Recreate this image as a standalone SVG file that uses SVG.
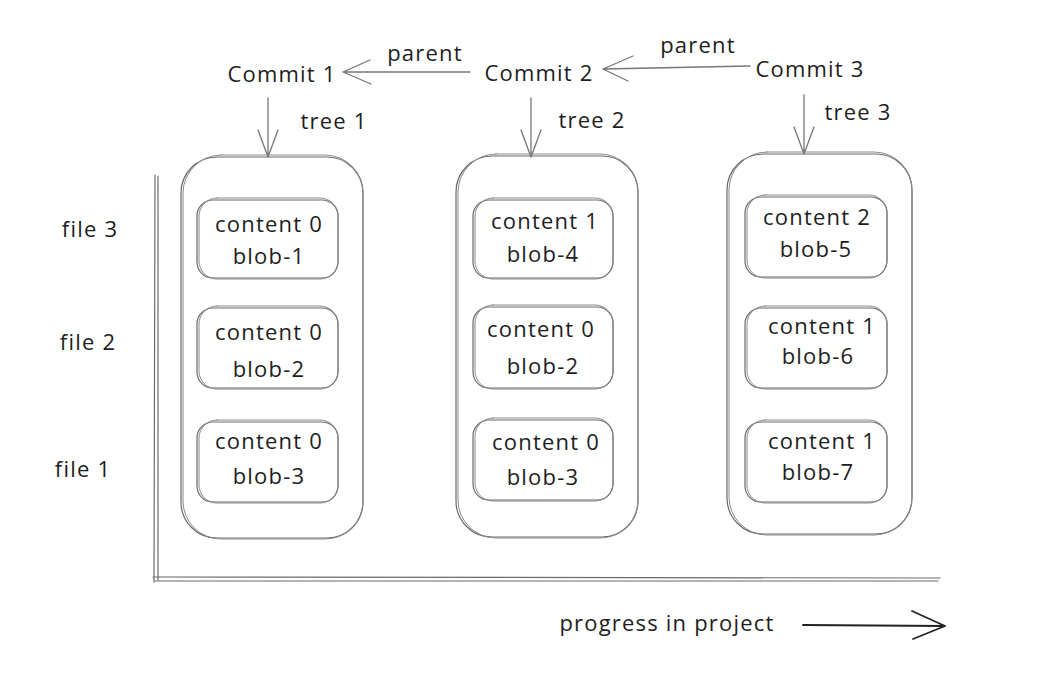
<svg xmlns="http://www.w3.org/2000/svg" width="1059" height="693" viewBox="0 0 1059 693">
<style>
.t{font-family:"Open Sans","Liberation Sans",sans-serif;font-size:22px;letter-spacing:1.2px;fill:#1e1e1e;text-anchor:middle}
.s{fill:none;stroke:#6a6a6a;stroke-width:1.2;stroke-linecap:round}
.s2{fill:none;stroke:#8a8a8a;stroke-width:1;stroke-linecap:round}
.a{fill:none;stroke:#777;stroke-width:1.3;stroke-linecap:round}
.k{fill:none;stroke:#222;stroke-width:1.8;stroke-linecap:round}
</style>
<rect width="1059" height="693" fill="#fff"/>
<g id="connectors">
  <path class="a" d="M470,72 L343,72 M343,72 L370,60 M343,72 L371,84"/>
  <path class="a" d="M750,66 L603,69 M603,69 L633,56 M603,69 L628,81"/>
  <path class="a" d="M268,98 L268,157 M268,157 L258,130 M268,157 L278,130"/>
  <path class="a" d="M531,98 L531,157 M531,157 L521,130 M531,157 L541,130"/>
  <path class="a" d="M804,95 L804,154 M804,154 L794,127 M804,154 L814,127"/>
  <path class="k" d="M803,625 L945,626 M945,626 L912,611 M945,626 L913,639"/>
</g>
<g id="axes">
  <path class="s" d="M155,175 L154,582 M158,176 L158,580"/>
  <path class="s" d="M153,577 L940,578 M155,581 L938,581"/>
</g>
<g id="labels">
  <text class="t" x="282" y="82">Commit 1</text>
  <text class="t" x="539" y="81">Commit 2</text>
  <text class="t" x="810" y="77">Commit 3</text>
  <text class="t" x="425" y="61">parent</text>
  <text class="t" x="698" y="53">parent</text>
  <text class="t" x="334" y="129">tree 1</text>
  <text class="t" x="592" y="128">tree 2</text>
  <text class="t" x="858" y="120">tree 3</text>
  <text class="t" x="90" y="237">file 3</text>
  <text class="t" x="88" y="350">file 2</text>
  <text class="t" x="83" y="477">file 1</text>
  <text class="t" x="667" y="631">progress in project</text>
</g>
<g id="tree1">
  <rect class="s" x="181" y="157" width="182" height="381" rx="36"/>
  <rect class="s2" x="183" y="155" width="180" height="384" rx="38"/>
</g>
<g id="tree2">
  <rect class="s" x="456" y="156" width="182" height="381" rx="36"/>
  <rect class="s2" x="458" y="154" width="180" height="384" rx="38"/>
</g>
<g id="tree3">
  <rect class="s" x="727" y="154" width="185" height="380" rx="36"/>
  <rect class="s2" x="729" y="152" width="183" height="383" rx="38"/>
</g>
<g id="blob1-c1"><rect class="s" x="197" y="200" width="141" height="78" rx="16"/><rect class="s2" x="199" y="198" width="139" height="81" rx="18"/><text class="t" x="269" y="232">content 0</text><text class="t" x="269" y="264">blob-1</text></g>
<g id="blob2-c1"><rect class="s" x="197" y="308" width="141" height="80" rx="16"/><rect class="s2" x="199" y="306" width="139" height="83" rx="18"/><text class="t" x="269" y="340">content 0</text><text class="t" x="269" y="377">blob-2</text></g>
<g id="blob3-c1"><rect class="s" x="197" y="422" width="141" height="80" rx="16"/><rect class="s2" x="199" y="420" width="139" height="83" rx="18"/><text class="t" x="269" y="449">content 0</text><text class="t" x="269" y="484">blob-3</text></g>
<g id="blob4-c2"><rect class="s" x="473" y="200" width="140" height="78" rx="16"/><rect class="s2" x="475" y="198" width="138" height="81" rx="18"/><text class="t" x="545" y="229">content 1</text><text class="t" x="543" y="262">blob-4</text></g>
<g id="blob2-c2"><rect class="s" x="473" y="307" width="140" height="81" rx="16"/><rect class="s2" x="475" y="305" width="138" height="84" rx="18"/><text class="t" x="541" y="337">content 0</text><text class="t" x="543" y="374">blob-2</text></g>
<g id="blob3-c2"><rect class="s" x="473" y="420" width="140" height="80" rx="16"/><rect class="s2" x="475" y="418" width="138" height="83" rx="18"/><text class="t" x="546" y="450">content 0</text><text class="t" x="543" y="485">blob-3</text></g>
<g id="blob5-c3"><rect class="s" x="745" y="197" width="142" height="80" rx="16"/><rect class="s2" x="747" y="195" width="140" height="83" rx="18"/><text class="t" x="817" y="225">content 2</text><text class="t" x="816" y="257">blob-5</text></g>
<g id="blob6-c3"><rect class="s" x="745" y="308" width="142" height="80" rx="16"/><rect class="s2" x="747" y="306" width="140" height="83" rx="18"/><text class="t" x="822" y="334">content 1</text><text class="t" x="818" y="364">blob-6</text></g>
<g id="blob7-c3"><rect class="s" x="745" y="422" width="142" height="80" rx="16"/><rect class="s2" x="747" y="420" width="140" height="83" rx="18"/><text class="t" x="822" y="449">content 1</text><text class="t" x="818" y="480">blob-7</text></g>
</svg>
